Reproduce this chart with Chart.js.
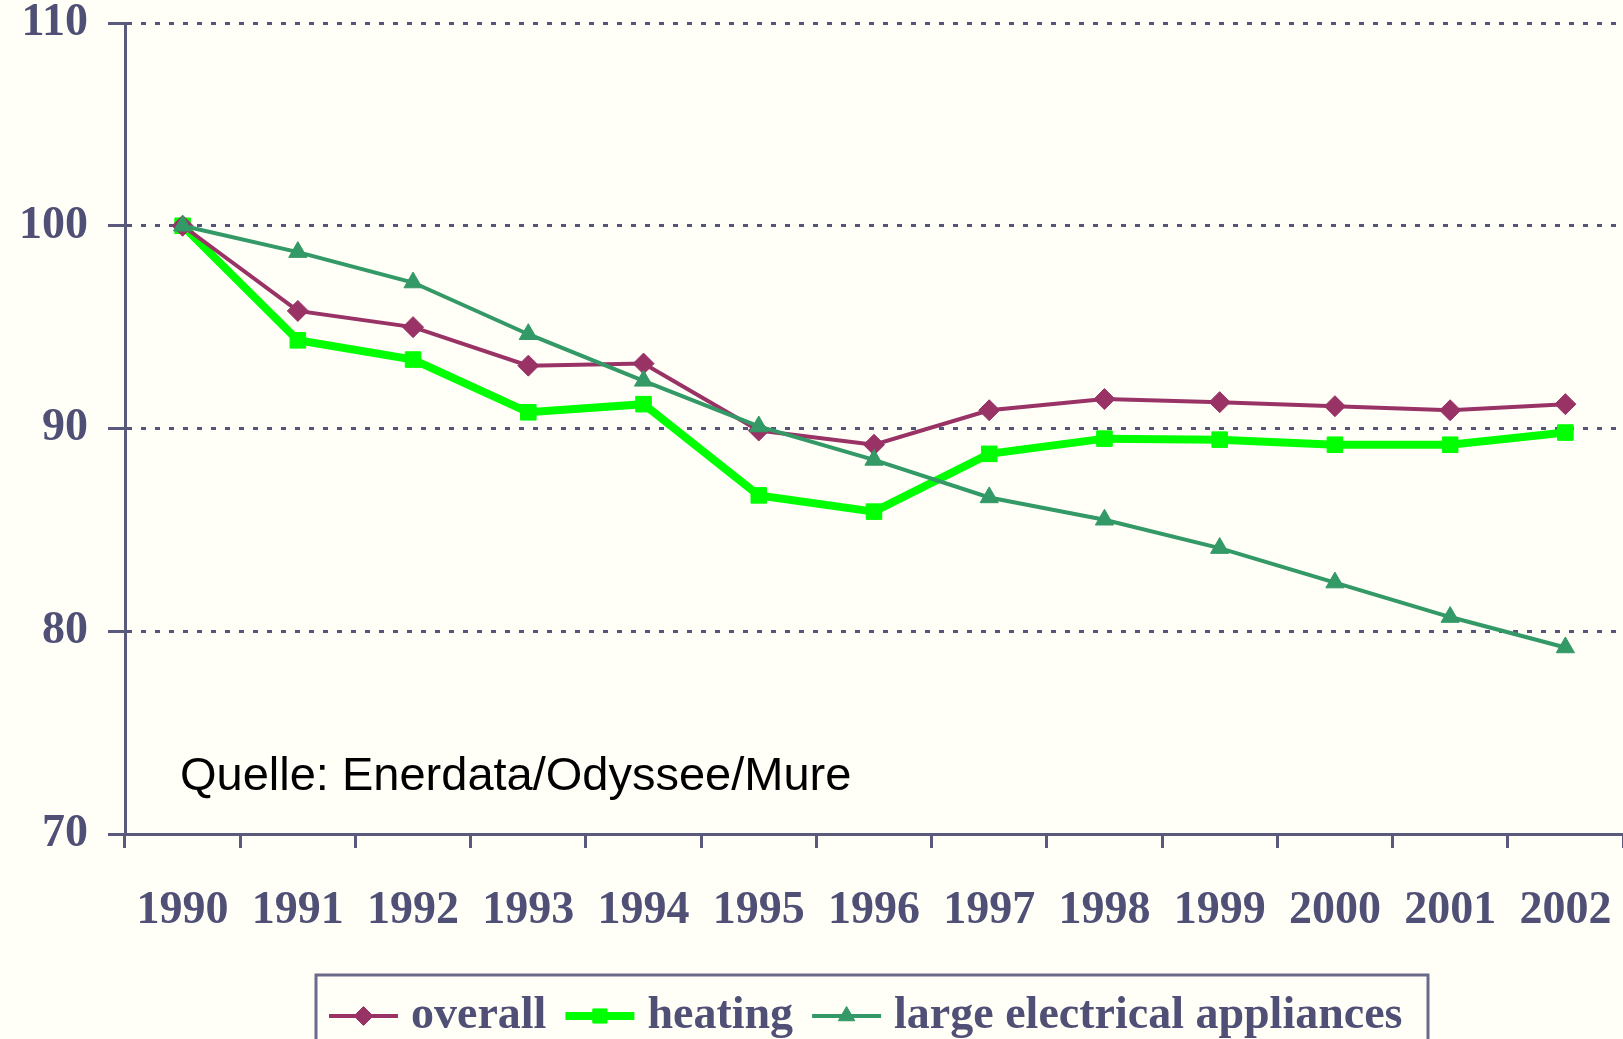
<!DOCTYPE html>
<html>
<head>
<meta charset="utf-8">
<title>Energy consumption index</title>
<script src="https://cdn.jsdelivr.net/npm/chart.js@4/dist/chart.umd.min.js"></script>
<style>
  html, body { margin: 0; padding: 0; background: #fffef7; }
  #chart { display: block; }
</style>
</head>
<body>
<canvas id="chart" width="1623" height="1039"></canvas>
<script>
// data (index, 1990 = 100)
const years = ['1990', '1991', '1992', '1993', '1994', '1995', '1996', '1997', '1998', '1999', '2000', '2001', '2002'];
const overall = [100, 95.8, 95.0, 93.1, 93.2, 89.9, 89.2, 90.9, 91.45, 91.3, 91.1, 90.9, 91.2];
const heating = [100, 94.35, 93.4, 90.8, 91.2, 86.7, 85.9, 88.75, 89.5, 89.45, 89.2, 89.2, 89.8];
const appliances = [100, 98.7, 97.2, 94.65, 92.35, 90.1, 88.45, 86.6, 85.5, 84.1, 82.4, 80.7, 79.2];
const yTicks = [70, 80, 90, 100, 110];
const sourceNote = 'Quelle: Enerdata/Odyssee/Mure';

const axisColor = '#5a5a7c';
const textColor = '#505076';
const serifFont = '"Liberation Serif", "DejaVu Serif", serif';

// background, source note and the boxed legend at the bottom
const extras = {
    id: 'extras',
    beforeDraw(chart) {
        const ctx = chart.ctx;
        ctx.save();
        ctx.fillStyle = '#fffef7';
        ctx.fillRect(0, 0, chart.width, chart.height);
        ctx.restore();
    },
    afterDraw(chart) {
        const ctx = chart.ctx;
        ctx.save();
        ctx.fillStyle = '#000';
        ctx.font = '47px "Liberation Sans", Arial, sans-serif';
        ctx.textBaseline = 'middle';
        ctx.fillText(sourceNote, 180, 777);

        // legend
        const boxLeft = 316, boxTop = 975, boxRight = 1428;
        ctx.strokeStyle = '#6a6a8a';
        ctx.lineWidth = 3;
        ctx.strokeRect(boxLeft, boxTop, boxRight - boxLeft, 120);

        ctx.font = 'bold 46px ' + serifFont;
        ctx.textBaseline = 'middle';
        const yMid = 1016;
        let x = 329;
        chart.data.datasets.forEach(ds => {
            ctx.strokeStyle = ds.borderColor;
            ctx.lineWidth = ds.borderWidth;
            ctx.beginPath();
            ctx.moveTo(x, yMid);
            ctx.lineTo(x + 69, yMid);
            ctx.stroke();
            ctx.fillStyle = ds.borderColor;
            ctx.lineWidth = 1;
            Chart.helpers.drawPoint(ctx, {
                pointStyle: ds.pointStyle,
                radius: ds.pointRadius - 1,
                borderWidth: 1,
                rotation: 0
            }, x + 34.5, yMid);
            ctx.fillStyle = textColor;
            ctx.fillText(ds.label, x + 82, yMid);
            x += 82 + ctx.measureText(ds.label).width + 19;
        });
        ctx.restore();
    }
};

const ctx = document.getElementById('chart').getContext('2d');
new Chart(ctx, {
    type: 'line',
    data: {
        labels: years,
        datasets: [
            {
                label: 'overall',
                data: overall,
                borderColor: '#993366',
                backgroundColor: '#993366',
                borderWidth: 4,
                pointStyle: 'rectRot',
                pointRadius: 10.5,
                pointBorderWidth: 1,
                pointBackgroundColor: '#993366',
                order: 1
            },
            {
                label: 'heating',
                data: heating,
                borderColor: '#00ff00',
                backgroundColor: '#00ff00',
                borderWidth: 8,
                pointStyle: 'rect',
                pointRadius: 11,
                pointBorderWidth: 1,
                pointBackgroundColor: '#00ff00',
                order: 2
            },
            {
                label: 'large electrical appliances',
                data: appliances,
                borderColor: '#339966',
                backgroundColor: '#339966',
                borderWidth: 4,
                pointStyle: 'triangle',
                pointRadius: 10.5,
                pointBorderWidth: 1,
                pointBackgroundColor: '#339966',
                order: 0
            }
        ]
    },
    options: {
        responsive: false,
        animation: false,
        layout: { autoPadding: false, padding: { top: 23, right: 0, bottom: 0, left: 0 } },
        plugins: {
            legend: { display: false },
            tooltip: { enabled: false }
        },
        elements: { line: { tension: 0 } },
        scales: {
            x: {
                offset: true,
                afterFit: s => {
                    s.height = 205;
                    s.paddingLeft = 0;
                    s.paddingRight = 0;
                },
                grid: {
                    offset: true,
                    drawOnChartArea: false,
                    drawTicks: true,
                    tickLength: 14,
                    tickColor: axisColor,
                    tickWidth: 3
                },
                border: { color: axisColor, width: 3 },
                ticks: {
                    color: textColor,
                    padding: 0,
                    maxRotation: 0,
                    autoSkip: false,
                    font: { family: serifFont, size: 46, weight: 'bold', lineHeight: 2.75 }
                }
            },
            y: {
                min: yTicks[0],
                max: yTicks[yTicks.length - 1],
                afterFit: s => { s.width = 125; },
                afterBuildTicks: s => { s.ticks = yTicks.map(v => ({ value: v })); },
                grid: {
                    color: '#55557a',
                    lineWidth: 3,
                    tickLength: 17,
                    tickColor: axisColor,
                    tickWidth: 3
                },
                border: { color: axisColor, width: 3, dash: [5, 9] },
                ticks: {
                    color: textColor,
                    padding: 20,
                    font: { family: serifFont, size: 46, weight: 'bold', lineHeight: 0.1 }
                }
            }
        }
    },
    plugins: [extras]
});
</script>
</body>
</html>
